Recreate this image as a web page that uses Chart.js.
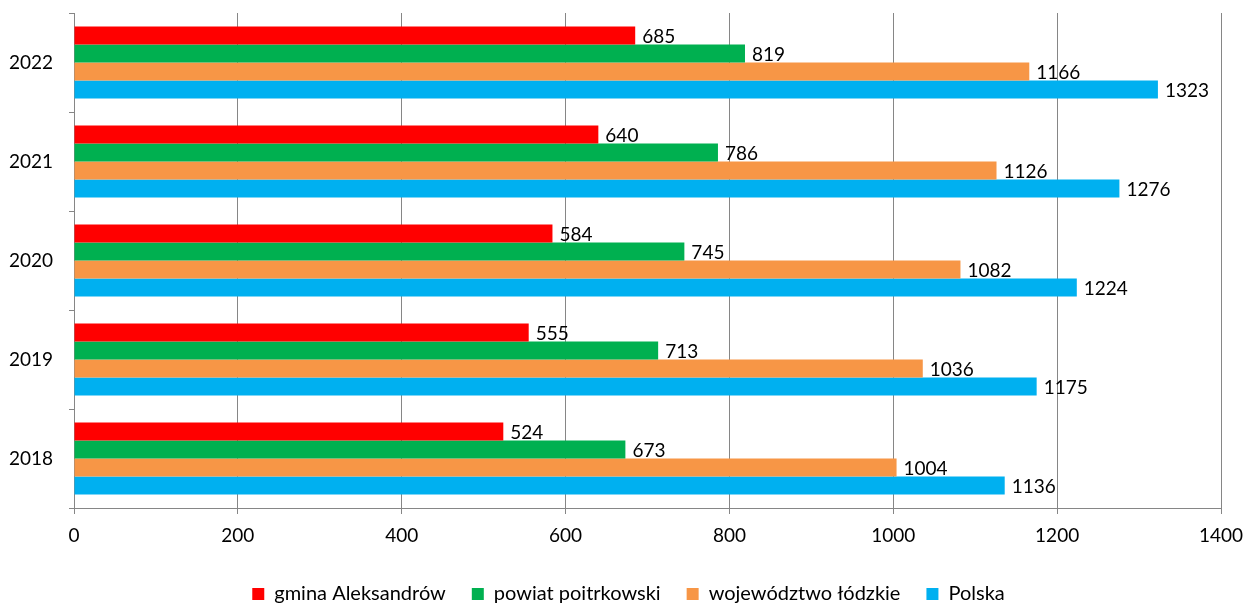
<!DOCTYPE html>
<html>
<head>
<meta charset="utf-8">
<script src="https://cdn.jsdelivr.net/npm/chart.js@4"></script>
<style>
  body { margin: 0; background: #fff; }
  #wrap { width: 1246px; height: 608px; }
</style>
</head>
<body>
<div id="wrap"><canvas id="chart" width="1246" height="608"></canvas></div>
<script>
// lata i wartości
const years = ['2022', '2021', '2020', '2019', '2018'];
const gmina = [685, 640, 584, 555, 524];
const powiat = [819, 786, 745, 713, 673];
const wojewodztwo = [1166, 1126, 1082, 1036, 1004];
const polska = [1323, 1276, 1224, 1175, 1136];
const xTicks = [0, 200, 400, 600, 800, 1000, 1200, 1400];

const FONT = { family: 'Lato', size: 19 };
const AXIS = '#868686';

// etykiety wartości za końcem słupka
const valueLabels = {
  id: 'valueLabels',
  afterDatasetsDraw(chart) {
    const ctx = chart.ctx;
    ctx.save();
    ctx.font = `${FONT.size}px ${FONT.family}`;
    ctx.fillStyle = '#000';
    ctx.textBaseline = 'middle';
    chart.data.datasets.forEach((ds, i) => {
      chart.getDatasetMeta(i).data.forEach((bar, j) => {
        ctx.fillText(String(ds.data[j]), bar.x + 7, bar.y + 1);
      });
    });
    ctx.restore();
  }
};

// legenda niżej i trochę w prawo, jak w oryginale
const legendSpace = {
  id: 'legendSpace',
  beforeInit(chart) {
    const fit = chart.legend.fit;
    chart.legend.fit = function () { fit.call(this); this.height = 50; };
  },
  afterLayout(chart) {
    chart.legend.left += 36;
  }
};

new Chart(document.getElementById('chart'), {
  type: 'bar',
  data: {
    labels: years,
    datasets: [
      { label: 'gmina Aleksandrów', data: gmina, backgroundColor: '#FF0000' },
      { label: 'powiat poitrkowski', data: powiat, backgroundColor: '#00B050' },
      { label: 'województwo łódzkie', data: wojewodztwo, backgroundColor: '#F79646' },
      { label: 'Polska', data: polska, backgroundColor: '#00B0F0' },
    ],
  },
  plugins: [valueLabels, legendSpace],
  options: {
    indexAxis: 'y',
    responsive: false,
    animation: false,
    barPercentage: 1,
    categoryPercentage: 0.727,
    layout: { padding: { top: 13, right: 25, left: 0, bottom: 0 } },
    scales: {
      x: {
        min: 0, max: 1400,
        afterBuildTicks: s => { s.ticks = xTicks.map(v => ({ value: v })); },
        afterFit: s => { s.height = 50; s.paddingLeft = 0; s.paddingRight = 0; },
        grid: { color: AXIS, lineWidth: 1, tickLength: 6 },
        border: { color: AXIS },
        ticks: { color: '#000', font: FONT, padding: 10, callback: v => String(v) },
      },
      y: {
        afterFit: s => { s.width = 74; s.paddingTop = 0; s.paddingBottom = 0; },
        grid: { drawOnChartArea: false, color: AXIS, tickLength: 5 },
        border: { color: AXIS },
        ticks: { color: '#000', font: FONT, padding: 16 },
      },
    },
    plugins: {
      tooltip: { enabled: false },
      legend: {
        position: 'bottom',
        labels: { color: '#000', font: { family: 'Lato', size: 20 }, boxWidth: 12, boxHeight: 12, padding: 26 },
      },
    },
  },
});
</script>
</body>
</html>
